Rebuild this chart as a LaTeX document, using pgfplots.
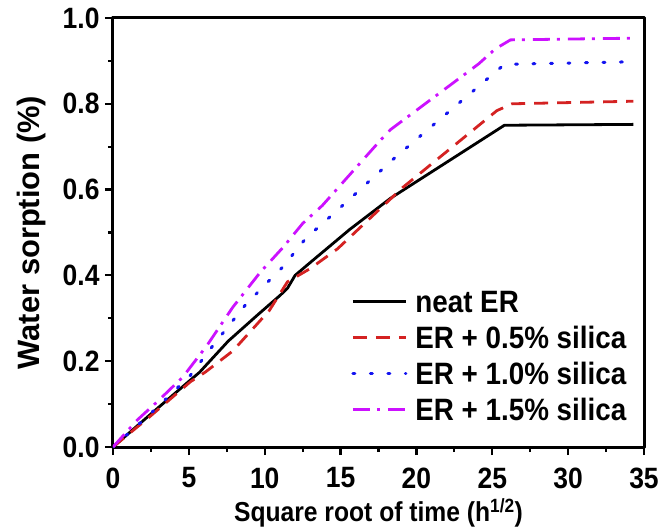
\documentclass[border=0pt]{standalone}
\usepackage{fontspec}
\setmainfont{Liberation Sans}[FakeStretch=0.9]
\newfontfamily\ylfont{Liberation Sans}
\usepackage{pgfplots}
\pgfplotsset{compat=1.18}
\definecolor{sred}{HTML}{D42222}
\definecolor{sblue}{HTML}{1414F0}
\definecolor{smag}{HTML}{CC11FF}
\begin{document}
\begin{tikzpicture}
\path[use as bounding box] (-113bp,-83bp) rectangle (558bp,447bp);
\begin{axis}[
    at={(0,0)}, anchor=south west,
    scale only axis, width=531bp, height=429bp,
    xmin=0, xmax=35, ymin=0, ymax=1,
    xtick={0,5,10,15,20,25,30,35},
    ytick={0,0.2,0.4,0.6,0.8,1.0},
    minor x tick num=1, minor y tick num=1,
    tick align=outside, tick pos=left,
    major tick length=8bp, minor tick length=5bp,
    every tick/.style={black, line width=2.2bp},
    axis line style={line width=3bp},
    /pgf/number format/assume math mode=true,
    ticklabel style={font=\fontsize{29.5}{32}\selectfont\bfseries},
    x tick label style={yshift=-9bp},
    y tick label style={xshift=-2bp, /pgf/number format/.cd, fixed, fixed zerofill, precision=1},
    xlabel={Square root of time (h\textsuperscript{1/2})},
    ylabel={Water sorption (\%)},
    x label style={font=\fontsize{27.5}{30}\selectfont\bfseries,
        at={(axis description cs:0.5,-0.1725)}, anchor=base},
    y label style={font=\ylfont\fontsize{31}{34}\selectfont\bfseries,
        at={(axis description cs:-0.1388,0.5)}, anchor=base},
    legend style={font=\fontsize{31}{34}\selectfont\bfseries, draw=none, fill=none,
        at={(axis cs:15.7,0.365)}, anchor=north west, inner sep=0pt,
        row sep=14bp, column sep=8bp,
        nodes={inner sep=0pt, text height=22bp, text depth=0bp}},
    legend cell align=left,
    legend image code/.code={\draw[#1] (0bp,0bp) -- (53bp,0bp);},
    line join=round,
]
\addplot[black, line width=2.8bp] coordinates {
    (0,0) (2.4,0.074) (5.1,0.156) (5.7,0.174) (7.6,0.247) (9.6,0.31)
    (11.0,0.353) (11.5,0.37) (12.0,0.40) (13.0,0.43) (15.6,0.507)
    (18.3,0.58) (25.8,0.75) (34.3,0.752)
};
\addlegendentry{neat ER}
\addplot[sred, line width=2.8bp, dash pattern=on 14bp off 9bp] coordinates {
    (0,0) (2.4,0.07) (5.1,0.152) (6.1,0.175) (7.9,0.224) (10.3,0.318)
    (11.5,0.385) (13.0,0.416) (14.8,0.462) (19.1,0.605) (25.3,0.784)
    (26.3,0.80) (34.3,0.806)
};
\addlegendentry{ER + 0.5\% silica}
\addplot[sblue, line width=3bp, line cap=round, dash pattern=on 2bp off 15.5bp] coordinates {
    (0,0) (2.4,0.075) (5.1,0.167) (6.6,0.237) (8.7,0.33) (10.3,0.388)
    (11.2,0.42) (12.7,0.486) (15.2,0.565) (18.6,0.675) (25.8,0.892)
    (34.3,0.898)
};
\addlegendentry{ER + 1.0\% silica}
\addplot[smag, line width=2.8bp, dash pattern=on 17bp off 7bp on 3bp off 8bp] coordinates {
    (0,0) (1.6,0.063) (2.9,0.105) (4.6,0.163) (6.2,0.237) (7.9,0.326)
    (9.7,0.407) (11.2,0.465) (12.5,0.521) (13.8,0.563) (17.6,0.714)
    (18.3,0.74) (24.1,0.893) (25.2,0.928) (26.2,0.949) (34.3,0.953)
};
\addlegendentry{ER + 1.5\% silica}
\end{axis}
\end{tikzpicture}
\end{document}
